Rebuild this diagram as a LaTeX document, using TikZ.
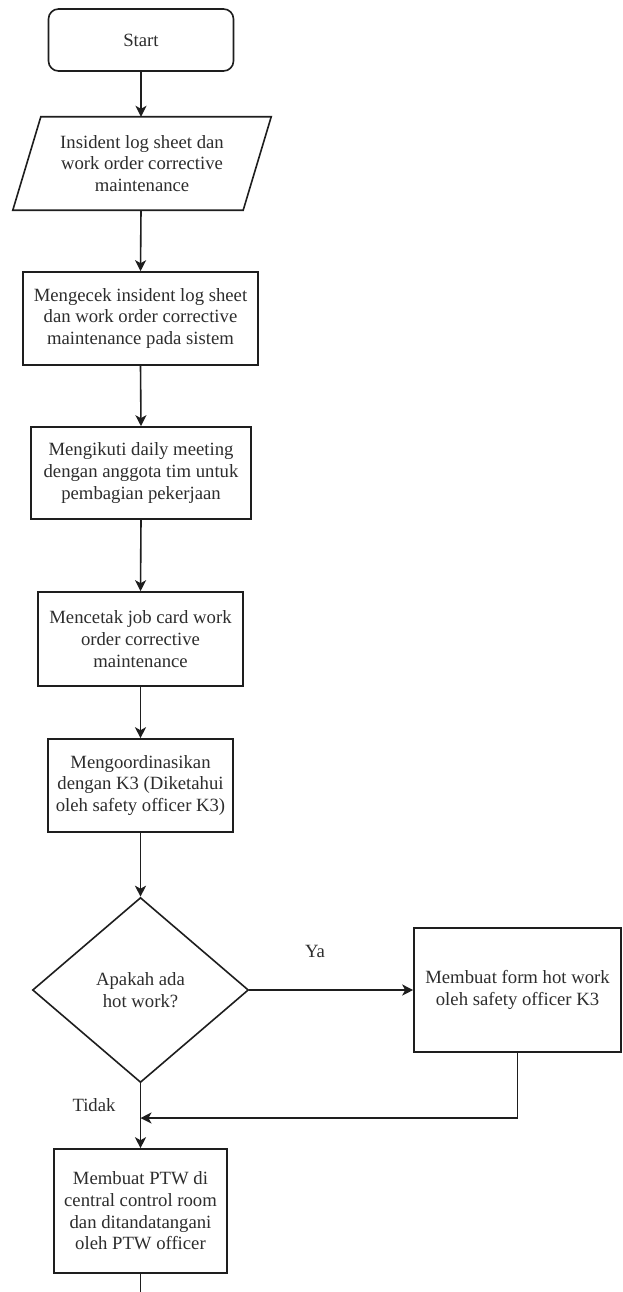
\documentclass[tikz,border=0pt]{standalone}
\usepackage{fontspec}
\setmainfont{Liberation Serif}
\usetikzlibrary{shapes.geometric,arrows.meta,calc}
\definecolor{ink}{RGB}{30,30,30}
\definecolor{txt}{RGB}{45,45,45}
\begin{document}
\begin{tikzpicture}[x=1pt,y=-1pt,
  every node/.style={font=\fontsize{18.7}{21.7}\selectfont, text=txt, align=center, inner sep=0pt},
  proc/.style={draw=ink, line width=1.6pt, rectangle},
  term/.style={draw=ink, line width=1.6pt, rectangle, rounded corners=10pt},
  decis/.style={draw=ink, line width=1.6pt, diamond},
  flow/.style={draw=ink, line width=1.6pt, -{Stealth[length=11pt,width=11pt,inset=3pt]}},
  plain/.style={draw=ink, line width=1.6pt}
]
\useasboundingbox (0,0) rectangle (622,1292);
\fill[white] (0,0) rectangle (622,1292);

\node[term, minimum width=185pt, minimum height=62pt] (start) at (141,40) {Start};

\node[minimum width=230pt, minimum height=93pt] (inp) at (142,163.5) {Insident log sheet dan\\work order corrective\\maintenance};
\draw[plain, line join=miter] ([xshift=14pt]inp.north west) -- ([xshift=14pt]inp.north east) -- ([xshift=-14pt]inp.south east) -- ([xshift=-14pt]inp.south west) -- cycle;

\node[proc, minimum width=235pt, minimum height=93pt] (r2) at (140.5,318.5) {Mengecek insident log sheet\\dan work order corrective\\maintenance pada sistem};
\node[proc, minimum width=220pt, minimum height=92pt] (r3) at (141,473) {Mengikuti daily meeting\\dengan anggota tim untuk\\pembagian pekerjaan};
\node[proc, minimum width=205pt, minimum height=94pt] (r4) at (140.5,639) {Mencetak job card work\\order corrective\\maintenance};
\node[proc, minimum width=185pt, minimum height=93pt] (r5) at (140.5,785.5) {Mengoordinasikan\\dengan K3 (Diketahui\\oleh safety officer K3)};
\node[decis, minimum width=216pt, minimum height=185pt] (dec) at (140.5,990) {Apakah ada\\hot work?};
\node[proc, minimum width=207pt, minimum height=124pt] (hot) at (517.5,990) {Membuat form hot work\\oleh safety officer K3};
\node[proc, minimum width=173pt, minimum height=124pt] (ptw) at (140.5,1211) {Membuat PTW di\\central control room\\dan ditandatangani\\oleh PTW officer};

\node (ya) at (315,951) {Ya};
\node (tidak) at (94,1105) {Tidak};

\coordinate (join) at (140.5,1118);
\coordinate (bend) at (517.5,1118);
\coordinate (endp) at (140.5,1292);

\draw[flow] (start.south) -- (start.south |- inp.north);
\draw[flow] (start.south |- inp.south) -- (r2.north);
\draw[flow] (r2.south) -- (r3.north);
\draw[flow] (r3.south) -- (r4.north);
\draw[flow] (r4.south) -- (r5.north);
\draw[flow] (r5.south) -- (dec.north);
\draw[flow] (dec.east) -- (hot.west);
\draw[flow] (dec.south) -- (ptw.north);
\draw[flow] (hot.south) -- (bend) -- (join);
\draw[plain] (ptw.south) -- (endp);
\end{tikzpicture}
\end{document}
